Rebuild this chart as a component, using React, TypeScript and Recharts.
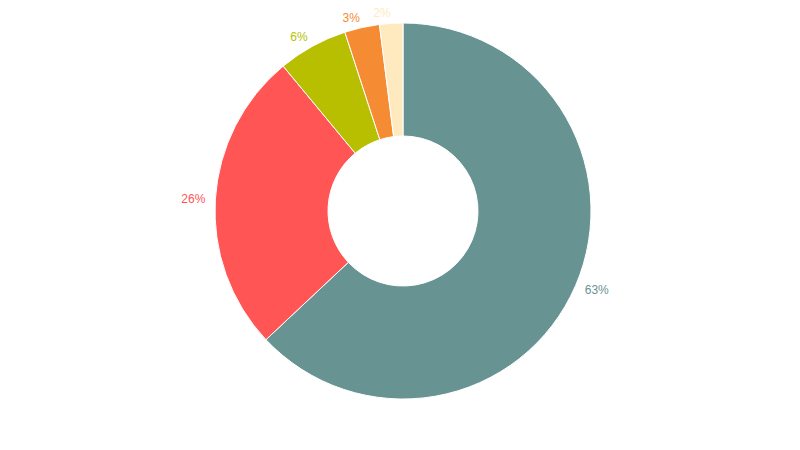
import React from "react";
import { PieChart, Pie, Cell } from "recharts";

const categories = ["A", "B", "C", "D", "E"];
const values = [63, 26, 6, 3, 2];
const colors = ["#689393", "#ff5555", "#b8be00", "#f58b32", "#ffeac0"];

const data = categories.map((name, i) => ({ name, value: values[i] }));

const RADIAN = Math.PI / 180;

const renderLabel = (props: any) => {
  const { cx, cy, midAngle, outerRadius, percent, index } = props;
  const r = outerRadius + 10;
  const c = Math.cos(-midAngle * RADIAN);
  const s = Math.sin(-midAngle * RADIAN);
  const x = cx + r * c;
  const y = cy + r * s;
  return (
    <text
      x={x}
      y={y}
      fill={colors[index % colors.length]}
      textAnchor={c < 0 ? "end" : "start"}
      dominantBaseline="central"
      fontSize={12}
      fontFamily="'Liberation Sans', Arial, sans-serif"
    >
      {`${Math.round(percent * 100)}%`}
    </text>
  );
};

export default function App() {
  return (
    <div style={{ position: "absolute", left: 0, top: 0, width: 800, height: 450, background: "#fff" }}>
      <PieChart width={800} height={450} margin={{ top: 0, right: 0, bottom: 0, left: 0 }}>
        <Pie
          data={data}
          dataKey="value"
          nameKey="name"
          cx={403}
          cy={211}
          innerRadius={75}
          outerRadius={188}
          startAngle={90}
          endAngle={-270}
          stroke="#fff"
          strokeWidth={1}
          label={renderLabel}
          labelLine={false}
          isAnimationActive={false}
        >
          {data.map((d, i) => (
            <Cell key={d.name} fill={colors[i % colors.length]} />
          ))}
        </Pie>
      </PieChart>
    </div>
  );
}
